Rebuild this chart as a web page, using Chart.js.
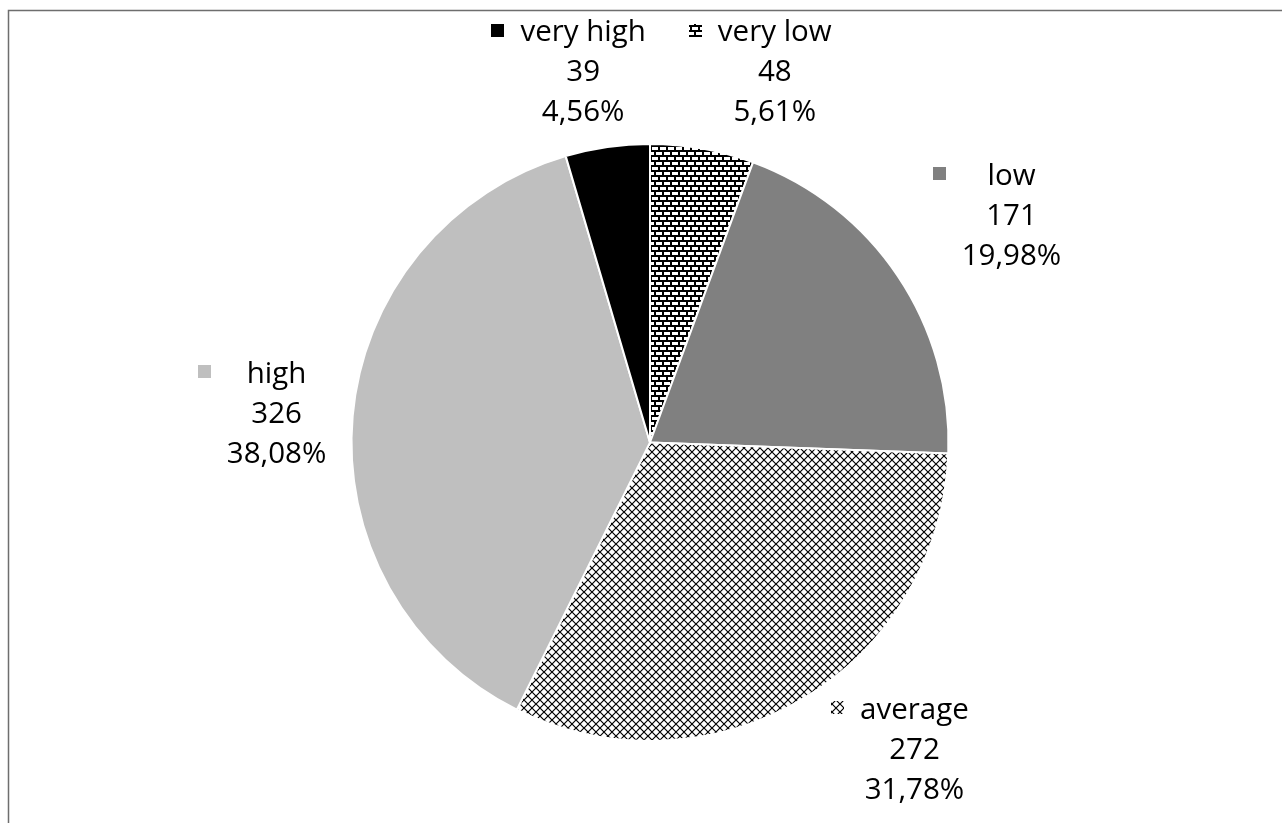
<!DOCTYPE html>
<html>
<head>
<meta charset="utf-8">
<script src="https://cdn.jsdelivr.net/npm/chart.js@4/dist/chart.umd.min.js"></script>
<style>
  html, body { margin: 0; padding: 0; background: #ffffff; }
  #wrap { width: 1282px; height: 823px; position: relative; }
</style>
</head>
<body>
<div id="wrap"><canvas id="pie" width="1282" height="823"></canvas></div>
<script>
// Category names and counts, clockwise from 12 o'clock
const categories = ['very low', 'low', 'average', 'high', 'very high'];
const counts = [48, 171, 272, 326, 39];

// Label block placement, as multiples of the pie radius from the centre
// (x = centre of the text block, y = baseline of the count line)
const labelOffsets = [
  [0.418, -1.211],
  [1.211, -0.729],
  [0.886, 1.060],
  [-1.251, -0.067],
  [-0.224, -1.211]
];

const FONT = '29.5px "Open Sans", "Noto Sans", sans-serif';
const LINE = 40;

// Brick fill
function brickPattern(ctx) {
  const t = document.createElement('canvas');
  t.width = 8; t.height = 10;
  const c = t.getContext('2d');
  c.fillStyle = '#000'; c.fillRect(0, 0, 8, 10);
  c.fillStyle = '#fff';
  c.fillRect(0, 2, 6, 3);
  c.fillRect(4, 7, 4, 3);
  c.fillRect(0, 7, 2, 3);
  return ctx.createPattern(t, 'repeat');
}

// Diagonal lattice fill
function latticePattern(ctx) {
  const t = document.createElement('canvas');
  t.width = 8; t.height = 8;
  const c = t.getContext('2d');
  c.fillStyle = '#fff'; c.fillRect(0, 0, 8, 8);
  c.strokeStyle = '#000'; c.lineWidth = 1.2;
  c.beginPath();
  c.moveTo(0, 0); c.lineTo(8, 8);
  c.moveTo(8, 0); c.lineTo(0, 8);
  c.stroke();
  return ctx.createPattern(t, 'repeat');
}

const canvas = document.getElementById('pie');
const ctx0 = canvas.getContext('2d');
const fills = [brickPattern(ctx0), '#808080', latticePattern(ctx0), '#bfbfbf', '#000000'];

const total = counts.reduce((a, b) => a + b, 0);
const pct = v => (v / total * 100).toFixed(2).replace('.', ',') + '%';

// Frame lines along the top and left edges
const framePlugin = {
  id: 'frame',
  beforeDraw(chart) {
    const c = chart.ctx;
    c.save();
    c.strokeStyle = '#6e6e6e';
    c.lineWidth = 1.5;
    c.beginPath();
    c.moveTo(8.5, chart.height);
    c.lineTo(8.5, 10.5);
    c.lineTo(chart.width, 10.5);
    c.stroke();
    c.restore();
  }
};

// Data labels with a legend key in front of each block
const labelPlugin = {
  id: 'sliceLabels',
  afterDraw(chart) {
    const c = chart.ctx;
    const meta = chart.getDatasetMeta(0);
    c.save();
    c.font = FONT;
    c.fillStyle = '#000';
    c.textAlign = 'center';
    c.textBaseline = 'alphabetic';
    meta.data.forEach((arc, i) => {
      const r = arc.outerRadius;
      const cx = arc.x + labelOffsets[i][0] * r;
      const by = arc.y + labelOffsets[i][1] * r;
      const lines = [categories[i], String(counts[i]), pct(counts[i])];
      const widths = lines.map(s => c.measureText(s).width);
      const maxW = Math.max(...widths);
      lines.forEach((s, k) => c.fillText(s, cx, by + (k - 1) * LINE));
      // legend key
      const size = 13;
      const kx = cx - maxW / 2 - 16 - size;
      const ky = by - LINE - 11 - size / 2;
      c.fillStyle = fills[i];
      c.fillRect(Math.round(kx), Math.round(ky), size, size);
      c.fillStyle = '#000';
    });
    c.restore();
  }
};

new Chart(canvas, {
  type: 'pie',
  data: {
    labels: categories,
    datasets: [{
      data: counts,
      backgroundColor: fills,
      borderColor: '#ffffff',
      borderWidth: 2
    }]
  },
  options: {
    responsive: false,
    animation: false,
    layout: { padding: { top: 143, bottom: 81, left: 300, right: 282 } },
    plugins: { legend: { display: false }, tooltip: { enabled: false } }
  },
  plugins: [framePlugin, labelPlugin]
});
</script>
</body>
</html>
